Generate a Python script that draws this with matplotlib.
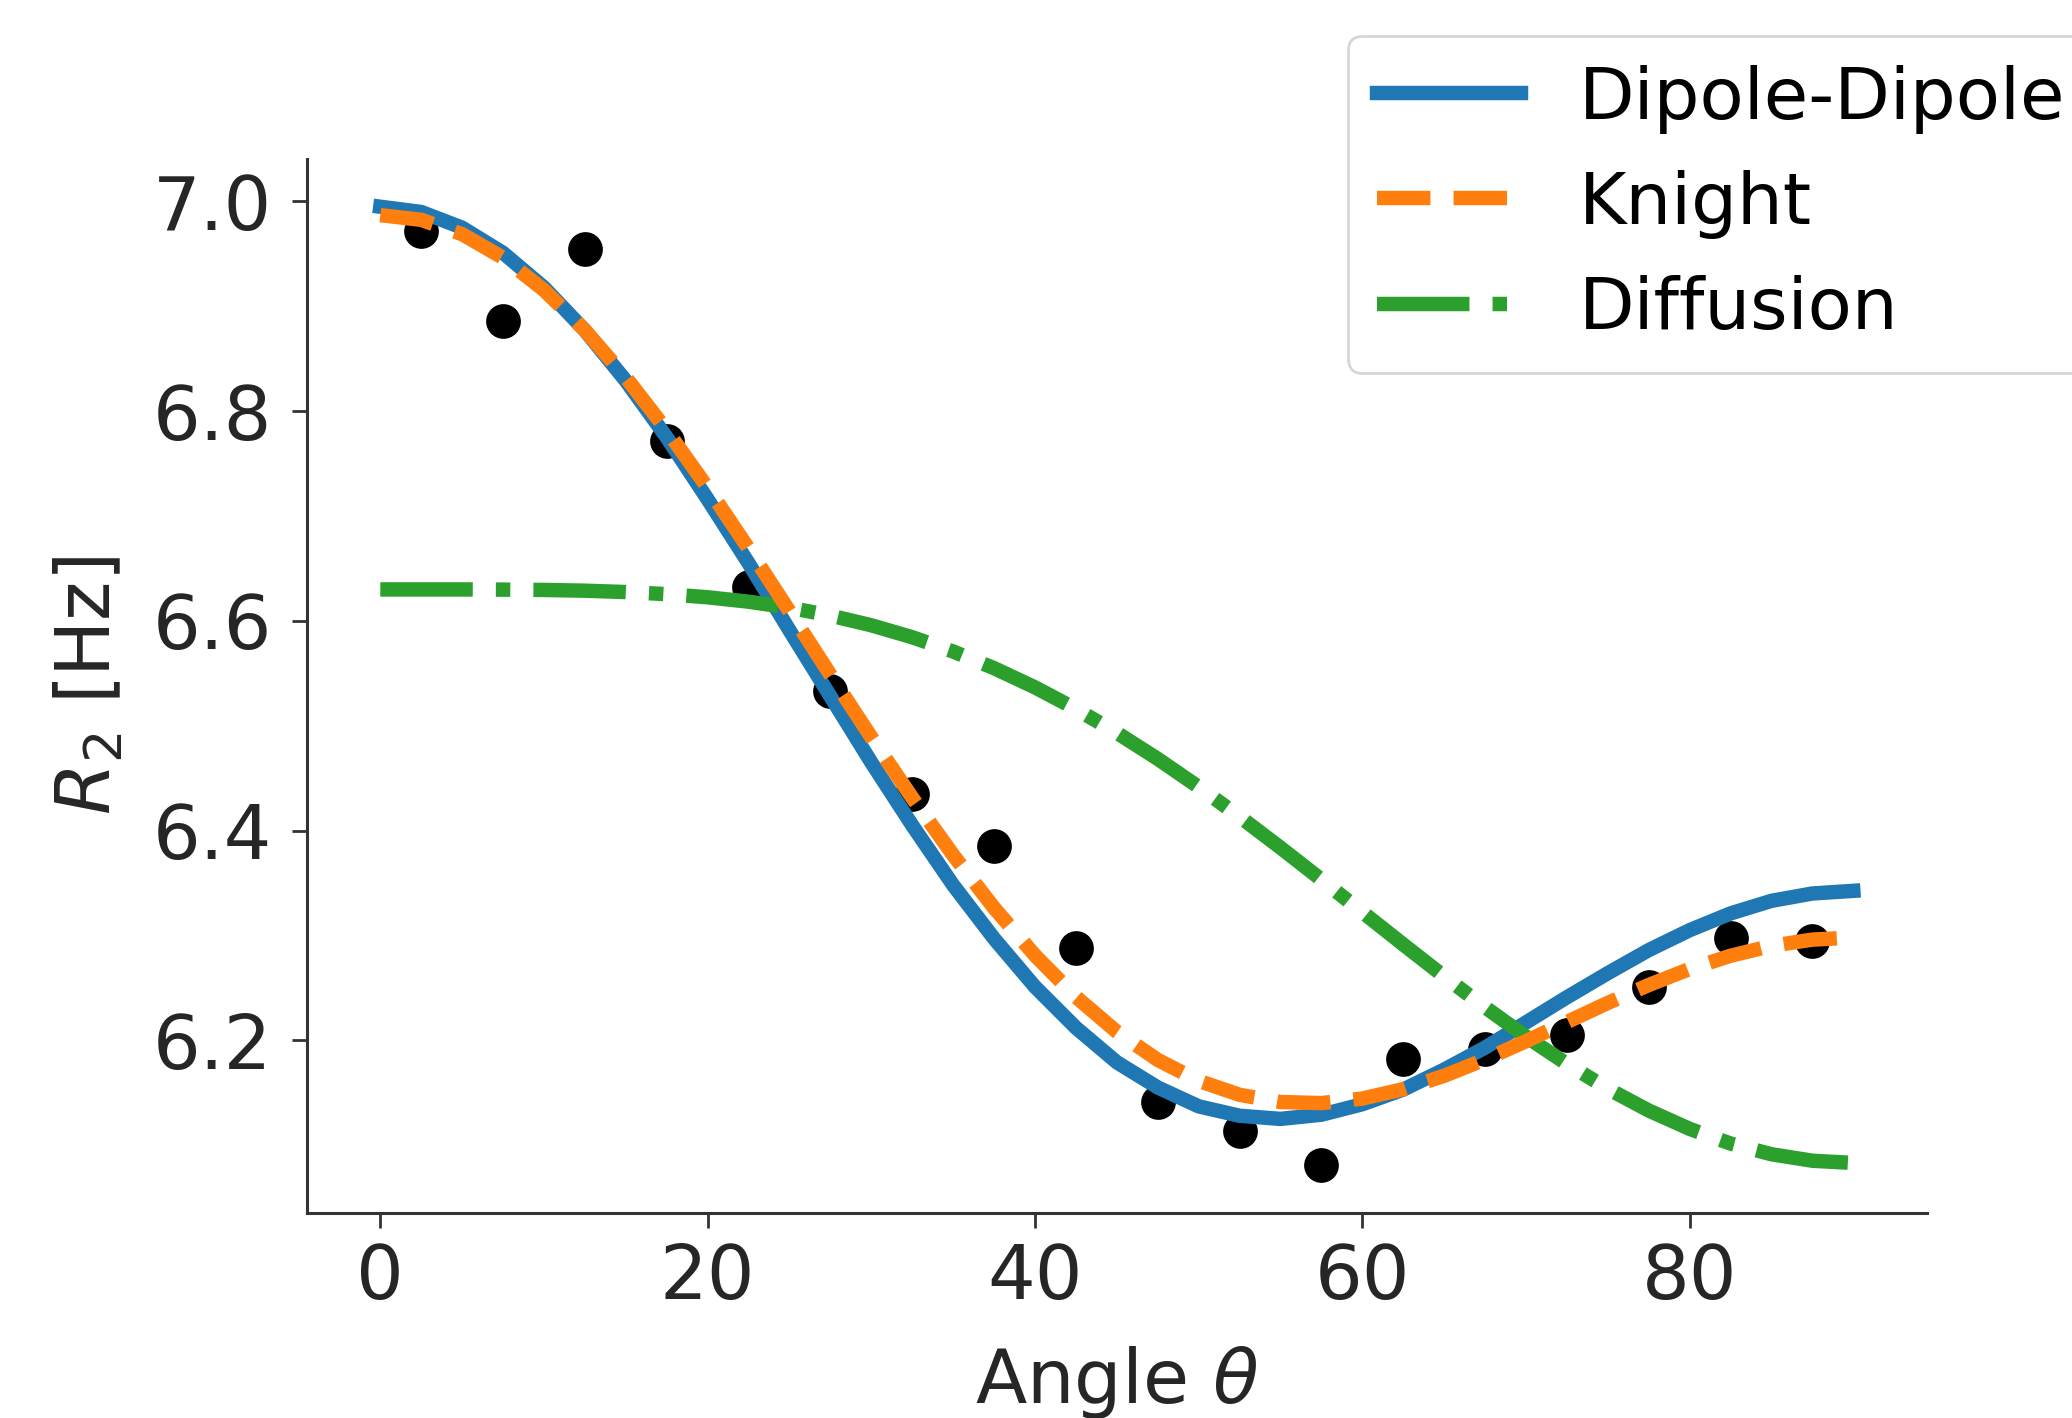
import matplotlib
matplotlib.use("Agg")
import matplotlib.pyplot as plt

# measured points
angle_pts = [2.5, 7.5, 12.5, 17.5, 22.5, 27.5, 32.5, 37.5, 42.5, 47.5,
             52.5, 57.5, 62.5, 67.5, 72.5, 77.5, 82.5, 87.5]
r2_pts = [6.972, 6.886, 6.955, 6.772, 6.632, 6.533, 6.435, 6.385, 6.288, 6.141,
          6.113, 6.081, 6.182, 6.192, 6.205, 6.251, 6.298, 6.295]

# model curves
angle_curve = [0, 2.5, 5, 7.5, 10, 12.5, 15, 17.5, 20, 22.5, 25, 27.5, 30, 32.5,
               35, 37.5, 40, 42.5, 45, 47.5, 50, 52.5, 55, 57.5, 60, 62.5, 65,
               67.5, 70, 72.5, 75, 77.5, 80, 82.5, 85, 87.5, 90]
dipole = [6.995, 6.990, 6.975, 6.951, 6.918, 6.877, 6.829, 6.775, 6.716, 6.655,
          6.591, 6.528, 6.465, 6.405, 6.348, 6.297, 6.251, 6.212, 6.179, 6.155,
          6.137, 6.128, 6.125, 6.129, 6.139, 6.153, 6.172, 6.193, 6.217, 6.241,
          6.264, 6.286, 6.305, 6.321, 6.333, 6.340, 6.3425]
knight = [6.987, 6.9825, 6.9688, 6.9463, 6.9155, 6.8772, 6.8323, 6.7818, 6.7270,
          6.6690, 6.6091, 6.5486, 6.4890, 6.4313, 6.3767, 6.3263, 6.2810, 6.2414,
          6.2081, 6.1813, 6.1613, 6.1480, 6.1411, 6.1401, 6.1444, 6.1534, 6.1661,
          6.1817, 6.1991, 6.2174, 6.2356, 6.2527, 6.2680, 6.2806, 6.2901, 6.2960,
          6.2980]
diffusion = [6.6300, 6.6300, 6.6300, 6.6298, 6.6295, 6.6288, 6.6275, 6.6255,
             6.6225, 6.6183, 6.6126, 6.6051, 6.5958, 6.5844, 6.5708, 6.5549,
             6.5366, 6.5160, 6.4933, 6.4684, 6.4416, 6.4133, 6.3837, 6.3532,
             6.3223, 6.2914, 6.2609, 6.2315, 6.2035, 6.1775, 6.1538, 6.1330,
             6.1155, 6.1015, 6.0913, 6.0851, 6.0830]

labels = ["Dipole-Dipole", "Knight", "Diffusion"]
xticks = [0, 20, 40, 60, 80]
yticks = [6.2, 6.4, 6.6, 6.8, 7.0]

DPI = 200
fig = plt.figure(figsize=(2072 / DPI, 1418 / DPI), dpi=DPI)
ax = fig.add_axes([0.148, 0.1446, 0.782, 0.7434])

ax.plot(angle_pts, r2_pts, 'o', color='black', markersize=11.5, zorder=1,
        linestyle='none')
kw = dict(lw=5.2, solid_joinstyle='round', dash_joinstyle='round')
ax.plot(angle_curve, dipole, '-', color='#1f77b4', label=labels[0], zorder=2, **kw)
ax.plot(angle_curve, knight, '--', color='#ff7f0e', label=labels[1], zorder=3, **kw)
ax.plot(angle_curve, diffusion, '-.', color='#2ca02c', label=labels[2], zorder=2, **kw)

ax.set_xticks(xticks)
ax.set_yticks(yticks)
ax.set_yticklabels([f"{v:.1f}" for v in yticks])
ax.tick_params(labelsize=27, length=5.4, width=1.0, color='#333333', labelcolor='#262626')
ax.tick_params(axis='x', pad=5)
ax.tick_params(axis='y', pad=7)
for s in ['top', 'right']:
    ax.spines[s].set_visible(False)
for s in ['left', 'bottom']:
    ax.spines[s].set_linewidth(1.1)
    ax.spines[s].set_color('#333333')

ax.set_xlabel(r"Angle $\theta$", fontsize=27, color='#262626', labelpad=10.5)
ax.set_ylabel(r"$R_2$ [Hz]", fontsize=27, color='#262626', labelpad=9.5)

leg = fig.legend(loc='upper left', bbox_to_anchor=(0.6506, 0.9748), fontsize=26,
                 frameon=True, fancybox=True, borderaxespad=0)
leg.get_frame().set_edgecolor('#cccccc')

fig.savefig("out.png", dpi=DPI)
